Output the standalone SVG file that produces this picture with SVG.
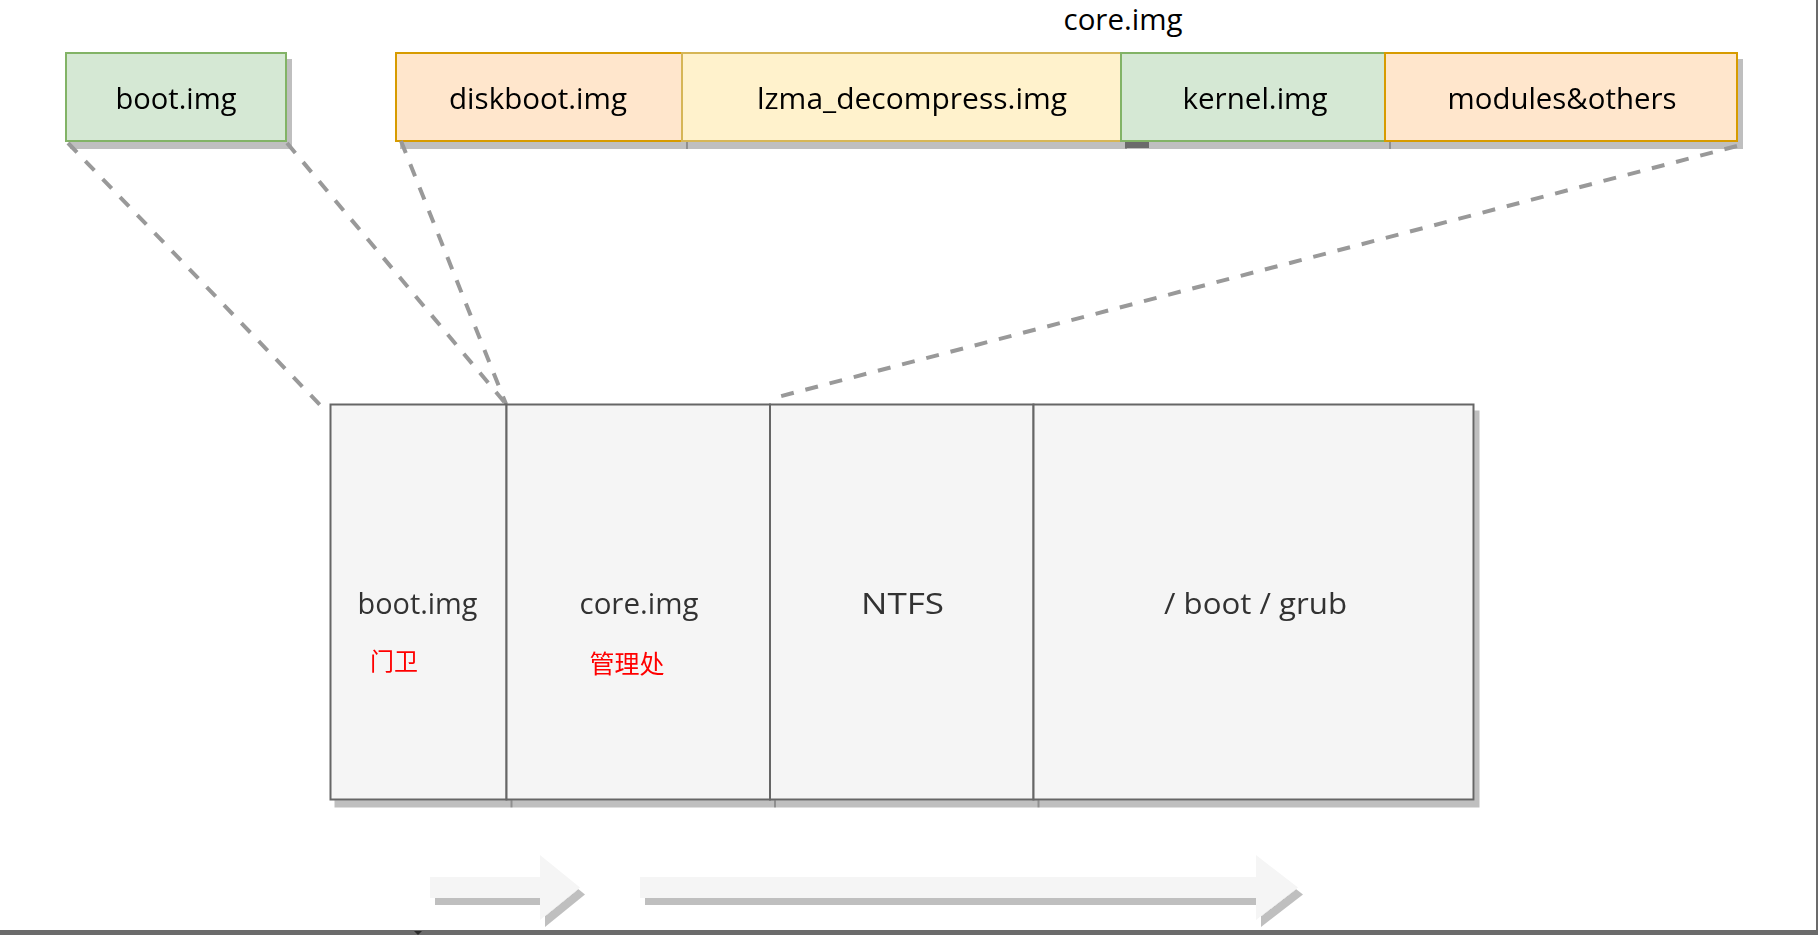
<svg xmlns="http://www.w3.org/2000/svg" width="1818" height="935" viewBox="0 0 1818 935">
  <defs>
    <filter id="shadow" x="-10%" y="-10%" width="130%" height="140%">
      <feOffset in="SourceAlpha" dx="5" dy="7" result="off"/>
      <feFlood flood-color="#000" flood-opacity="0.25"/>
      <feComposite in2="off" operator="in" result="sh"/>
      <feMerge>
        <feMergeNode in="sh"/>
        <feMergeNode in="SourceGraphic"/>
      </feMerge>
    </filter>
    <style>
      .lbl { font-family: "Open Sans", "Noto Sans", sans-serif; font-size: 30px; text-anchor: middle; fill: #000; }
      .dark { fill: #333333; }
      .cn { font-family: "Noto Sans CJK SC", sans-serif; fill: #ff0000; text-anchor: middle; }
      .green { fill: #d5e8d4; stroke: #82b366; stroke-width: 2; }
      .orange { fill: #ffe6cc; stroke: #d79b00; stroke-width: 2; }
      .yellow { fill: #fff2cc; stroke: #d6b656; stroke-width: 2; }
      .gray { fill: #f5f5f5; stroke: #666666; stroke-width: 2; }
      .dash { fill: none; stroke: #999999; stroke-width: 4; stroke-dasharray: 13 12; }
      .arrow { fill: #f5f5f5; stroke: none; }
    </style>
  </defs>

  <rect width="1818" height="935" fill="#ffffff"/>

  <!-- heading over the core.img parts -->
  <text id="core-title" class="lbl" x="1123" y="30" font-size="29" style="font-size:29px" textLength="119" lengthAdjust="spacingAndGlyphs">core.img</text>

  <!-- top row: image parts -->
  <g id="top-boot" filter="url(#shadow)">
    <rect class="green" x="66" y="53" width="220" height="88"/>
    <text class="lbl" x="176" y="109" textLength="121" lengthAdjust="spacingAndGlyphs">boot.img</text>
  </g>
  <g id="top-diskboot" filter="url(#shadow)">
    <rect class="orange" x="396" y="53" width="286" height="88"/>
    <text class="lbl" x="538" y="109" textLength="178" lengthAdjust="spacingAndGlyphs">diskboot.img</text>
  </g>
  <g id="top-lzma" filter="url(#shadow)">
    <rect class="yellow" x="682" y="53" width="439" height="88"/>
    <text class="lbl" x="912" y="109" textLength="310" lengthAdjust="spacingAndGlyphs">lzma_decompress.img</text>
  </g>
  <rect x="1125" y="141" width="24" height="7" fill="#8f8f8f"/>
  <g id="top-kernel" filter="url(#shadow)">
    <rect class="green" x="1121" y="53" width="264" height="88"/>
    <text class="lbl" x="1255" y="109" textLength="145" lengthAdjust="spacingAndGlyphs">kernel.img</text>
  </g>
  <g id="top-modules" filter="url(#shadow)">
    <rect class="orange" x="1385" y="53" width="352" height="88"/>
    <text class="lbl" x="1562" y="109" textLength="229" lengthAdjust="spacingAndGlyphs">modules&amp;others</text>
  </g>

  <!-- dashed connectors -->
  <g id="connectors">
    <line class="dash" x1="68" y1="143" x2="323" y2="408"/>
    <line class="dash" x1="287" y1="143" x2="506" y2="404"/>
    <line class="dash" x1="401" y1="141" x2="506" y2="404"/>
    <line class="dash" x1="1737" y1="146" x2="770" y2="399"/>
  </g>

  <!-- disk layout -->
  <g id="disk-boot" filter="url(#shadow)">
    <rect class="gray" x="330.5" y="404.5" width="176" height="395"/>
    <text class="lbl dark" x="417.5" y="614" textLength="120" lengthAdjust="spacingAndGlyphs">boot.img</text>
    <text class="cn" x="394" y="670" font-size="24">门卫</text>
  </g>
  <g id="disk-core" filter="url(#shadow)">
    <rect class="gray" x="506.5" y="404.5" width="263.5" height="395"/>
    <text class="lbl dark" x="639" y="614" textLength="119" lengthAdjust="spacingAndGlyphs">core.img</text>
    <text class="cn" x="627" y="673" font-size="25">管理处</text>
  </g>
  <g id="disk-ntfs" filter="url(#shadow)">
    <rect class="gray" x="770" y="404.5" width="263.5" height="395"/>
    <text class="lbl dark" x="902.5" y="614" textLength="83" lengthAdjust="spacingAndGlyphs">NTFS</text>
  </g>
  <g id="disk-grub" filter="url(#shadow)">
    <rect class="gray" x="1033.5" y="404.5" width="440" height="395"/>
    <text class="lbl dark" x="1255.5" y="614" textLength="183" lengthAdjust="spacingAndGlyphs">/ boot / grub</text>
  </g>

  <!-- flow arrows -->
  <g id="arrow-short" filter="url(#shadow)">
    <polygon class="arrow" points="430,877 540,877 540,855 580,887.5 540,920 540,898 430,898"/>
  </g>
  <g id="arrow-long" filter="url(#shadow)">
    <polygon class="arrow" points="640,877 1256,877 1256,855 1298,887.5 1256,920 1256,898 640,898"/>
  </g>

  <!-- window frame edges -->
  <rect x="1816" y="0" width="2" height="935" fill="#6b6b6b"/>
  <rect x="0" y="930" width="1818" height="5" fill="#6b6b6b"/>
  <polygon points="414,931 422,931 418,935" fill="#2a2a2a"/>
</svg>
